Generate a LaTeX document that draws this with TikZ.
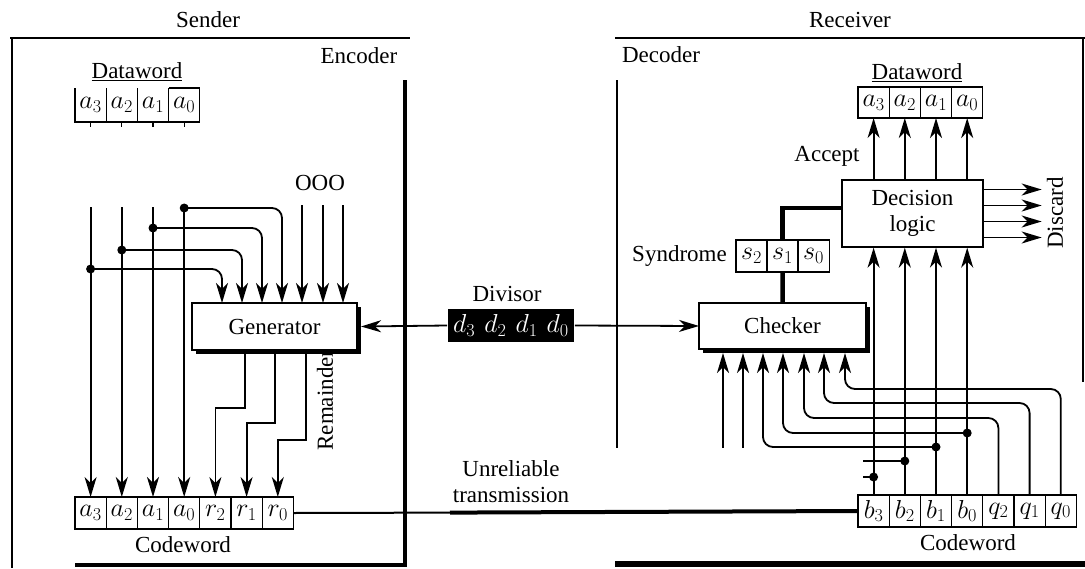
\RequirePackage{fix-cm}
\documentclass[tikz,border=0pt]{standalone}
\usepackage{fontspec}
\setmainfont{Liberation Serif}
\usetikzlibrary{arrows.meta}
\tikzset{
  cell/.style={draw,line width=1.3pt,minimum width=31.2pt,minimum height=32pt,inner sep=0pt,outer sep=0pt,anchor=north west,font=\fontsize{26}{28}\selectfont},
  bitc/.style={minimum width=31.2pt,minimum height=34pt,inner sep=0pt,outer sep=0pt,anchor=north west,font=\fontsize{26}{28}\selectfont},
  unit/.style={draw,fill=white,line width=1.3pt,inner sep=0pt,outer sep=0pt,preaction={fill=black,transform canvas={xshift=4pt,yshift=-4pt}}},
  heavy/.style={line width=4.5pt},
  tap/.style={circle,fill=black,inner sep=0pt,minimum size=9pt},
}
\begin{document}
\begin{tikzpicture}[x=1pt,y=-1pt,>={Stealth[length=20pt,width=12pt,inset=6pt]},line width=1.8pt,font=\fontsize{23}{26}\selectfont]
  \useasboundingbox (0,0) rectangle (1085,568);
  % sender side
  \node (snd) at (208,20) {Sender};
  \node (enc) at (359,56) {Encoder};
  \draw (10,38) -- (410,38);
  \draw (12,38) -- (12,568);
  \draw[heavy] (405,80) -- (405,567);
  \draw[heavy] (75,565) -- (407,565);
  \node (dwl) at (137,72) {\underline{Dataword}};
  \foreach \n/\i in {3/0,2/1,1/2,0/3}
    \node[bitc] (da\n) at (75+31.2*\i,88) {$a_\n$};
  \draw[line width=1.3pt] (da3.north west) -- (da3.south west) -- (da0.south east) -- (da0.north east) -- (da0.north west);
  \foreach \n in {2,1,0} \draw[line width=1.3pt] (da\n.north west) -- (da\n.south west);
  \foreach \n in {3,2,1,0} \draw[line width=1.3pt] (da\n.south) -- ++(0,5);
  \foreach \n/\t/\i in {a3/a_3/0,a2/a_2/1,a1/a_1/2,a0/a_0/3,r2/r_2/4,r1/r_1/5,r0/r_0/6}
    \node[cell] (c\n) at (75+31.2*\i,497) {$\t$};
  \node (cwl) at (183,545) {Codeword};
  \node[unit,minimum width=165pt,minimum height=47pt] (gen) at (274.5,326.5) {Generator};
  \node (ooo) at (320,183) {OOO};
  \foreach \n in {a3,a2,a1,a0} \draw[<-] (c\n.north) -- ++(0,-290);
  \node[tap] (ja3) at (90.6,269) {};
  \node[tap] (ja2) at (121.8,250) {};
  \node[tap] (ja1) at (153,228) {};
  \node[tap] (ja0) at (184.2,208) {};
  \foreach \k/\x in {1/222,2/242,3/262,4/282,5/302,6/323,7/343} \coordinate (g\k) at (\x,303);
  \draw[->,rounded corners=10pt] (ja3.center) -| (g1);
  \draw[->,rounded corners=10pt] (ja2.center) -| (g2);
  \draw[->,rounded corners=10pt] (ja1.center) -| (g3);
  \draw[->,rounded corners=10pt] (ja0.center) -| (g4);
  \foreach \k in {5,6,7} \draw[<-] (g\k) -- ++(0,-98);
  \coordinate (o1) at (245,350);
  \coordinate (o2) at (275,350);
  \coordinate (o3) at (306,350);
  \draw[->] (o1) -- ++(0,58) -| (cr2.north);
  \draw[->] (o2) -- ++(0,73) -| (cr1.north);
  \draw[->] (o3) -- ++(0,90) -| (cr0.north);
  \node[rotate=90] (rem) at (325,400) {Remainder};
  % channel
  \node[fill=black,text=white,minimum width=126pt,minimum height=33pt,inner sep=0pt,font=\fontsize{26}{28}\selectfont] (div) at (511,325.5) {$d_3\hspace{.35em}d_2\hspace{.35em}d_1\hspace{.35em}d_0$};
  \node (divl) at (507,294) {Divisor};
  \node[align=center] (unrel) at (511,482) {Unreliable\\transmission};
  % receiver side
  \node (rcv) at (850,20) {Receiver};
  \node (dcd) at (661,55) {Decoder};
  \draw (615,38) -- (1085,38);
  \draw (1083,38) -- (1083,382);
  \draw (617,80) -- (617,448);
  \draw[line width=6pt] (615,564) -- (1085,564);
  \node (dwr) at (917,73) {\underline{Dataword}};
  \foreach \n/\i in {3/0,2/1,1/2,0/3}
    \node[cell,minimum height=31pt] (dr\n) at (858+31.2*\i,87) {$a_\n$};
  \node[draw,fill=white,line width=1.3pt,minimum width=141pt,minimum height=67pt,inner sep=0pt,align=center] (dec) at (912.5,213.5) {Decision\\logic};
  \node (acc) at (827,156) {Accept};
  \node[rotate=90] (disc) at (1055,213) {Discard};
  \node[unit,minimum width=167pt,minimum height=46pt] (chk) at (782.5,326) {Checker};
  \node[anchor=east] (synl) at (731,256) {Syndrome};
  \foreach \n/\i in {2/0,1/1,0/2}
    \node[cell] (s\n) at (736+31*\i,240) {$s_\n$};
  \foreach \n/\t/\i in {b3/b_3/0,b2/b_2/1,b1/b_1/2,b0/b_0/3,q2/q_2/4,q1/q_1/5,q0/q_0/6}
    \node[cell] (c\n) at (858+31.2*\i,495) {$\t$};
  \node (cwr) at (968,543) {Codeword};
  \draw[line width=2pt] (cr0.east) -- (450,512.6) coordinate (tx);
  \draw[line width=4pt] (tx) -- (cb3.west);
  \draw[->] (div.west) -- ([xshift=4pt]gen.east);
  \draw[->] (div.east) -- (chk.west);
  \draw[heavy] (s1.north) |- ([yshift=5.5pt]dec.west);
  \draw[heavy] (s1.south) -- (chk.north);
  \foreach \n in {3,2,1,0} \draw[->] (dec.north -| dr\n.south) -- (dr\n.south);
  \foreach \s in {24,8,-8,-24} \draw[->] ([yshift=\s pt]dec.east) -- ++(58,0);
  \foreach \n in {b3,b2,b1,b0} \draw[->] (c\n.north) -- (c\n.north |- dec.south);
  \node[tap] (jb3) at (873.6,477) {};
  \node[tap] (jb2) at (904.8,461) {};
  \node[tap] (jb1) at (936,447) {};
  \node[tap] (jb0) at (967.2,433) {};
  \draw (jb3.center) -- ++(-11,0);
  \draw (jb2.center) -- ++(-42,0);
  \foreach \k/\x in {1/723,2/743,3/763,4/783,5/804,6/824,7/845} \coordinate (k\k) at (\x,353);
  \draw[<-] (k1) -- ++(0,95);
  \draw[<-] (k2) -- ++(0,95);
  \draw[->,rounded corners=10pt] (jb1.center) -| (k3);
  \draw[->,rounded corners=10pt] (jb0.center) -| (k4);
  \coordinate (h5) at (804,418);
  \coordinate (h6) at (824,403);
  \coordinate (h7) at (845,389);
  \draw[->,rounded corners=10pt] (cq2.north) |- (h5) -- (k5);
  \draw[->,rounded corners=10pt] (cq1.north) |- (h6) -- (k6);
  \draw[->,rounded corners=10pt] (cq0.north) |- (h7) -- (k7);
\end{tikzpicture}
\end{document}
